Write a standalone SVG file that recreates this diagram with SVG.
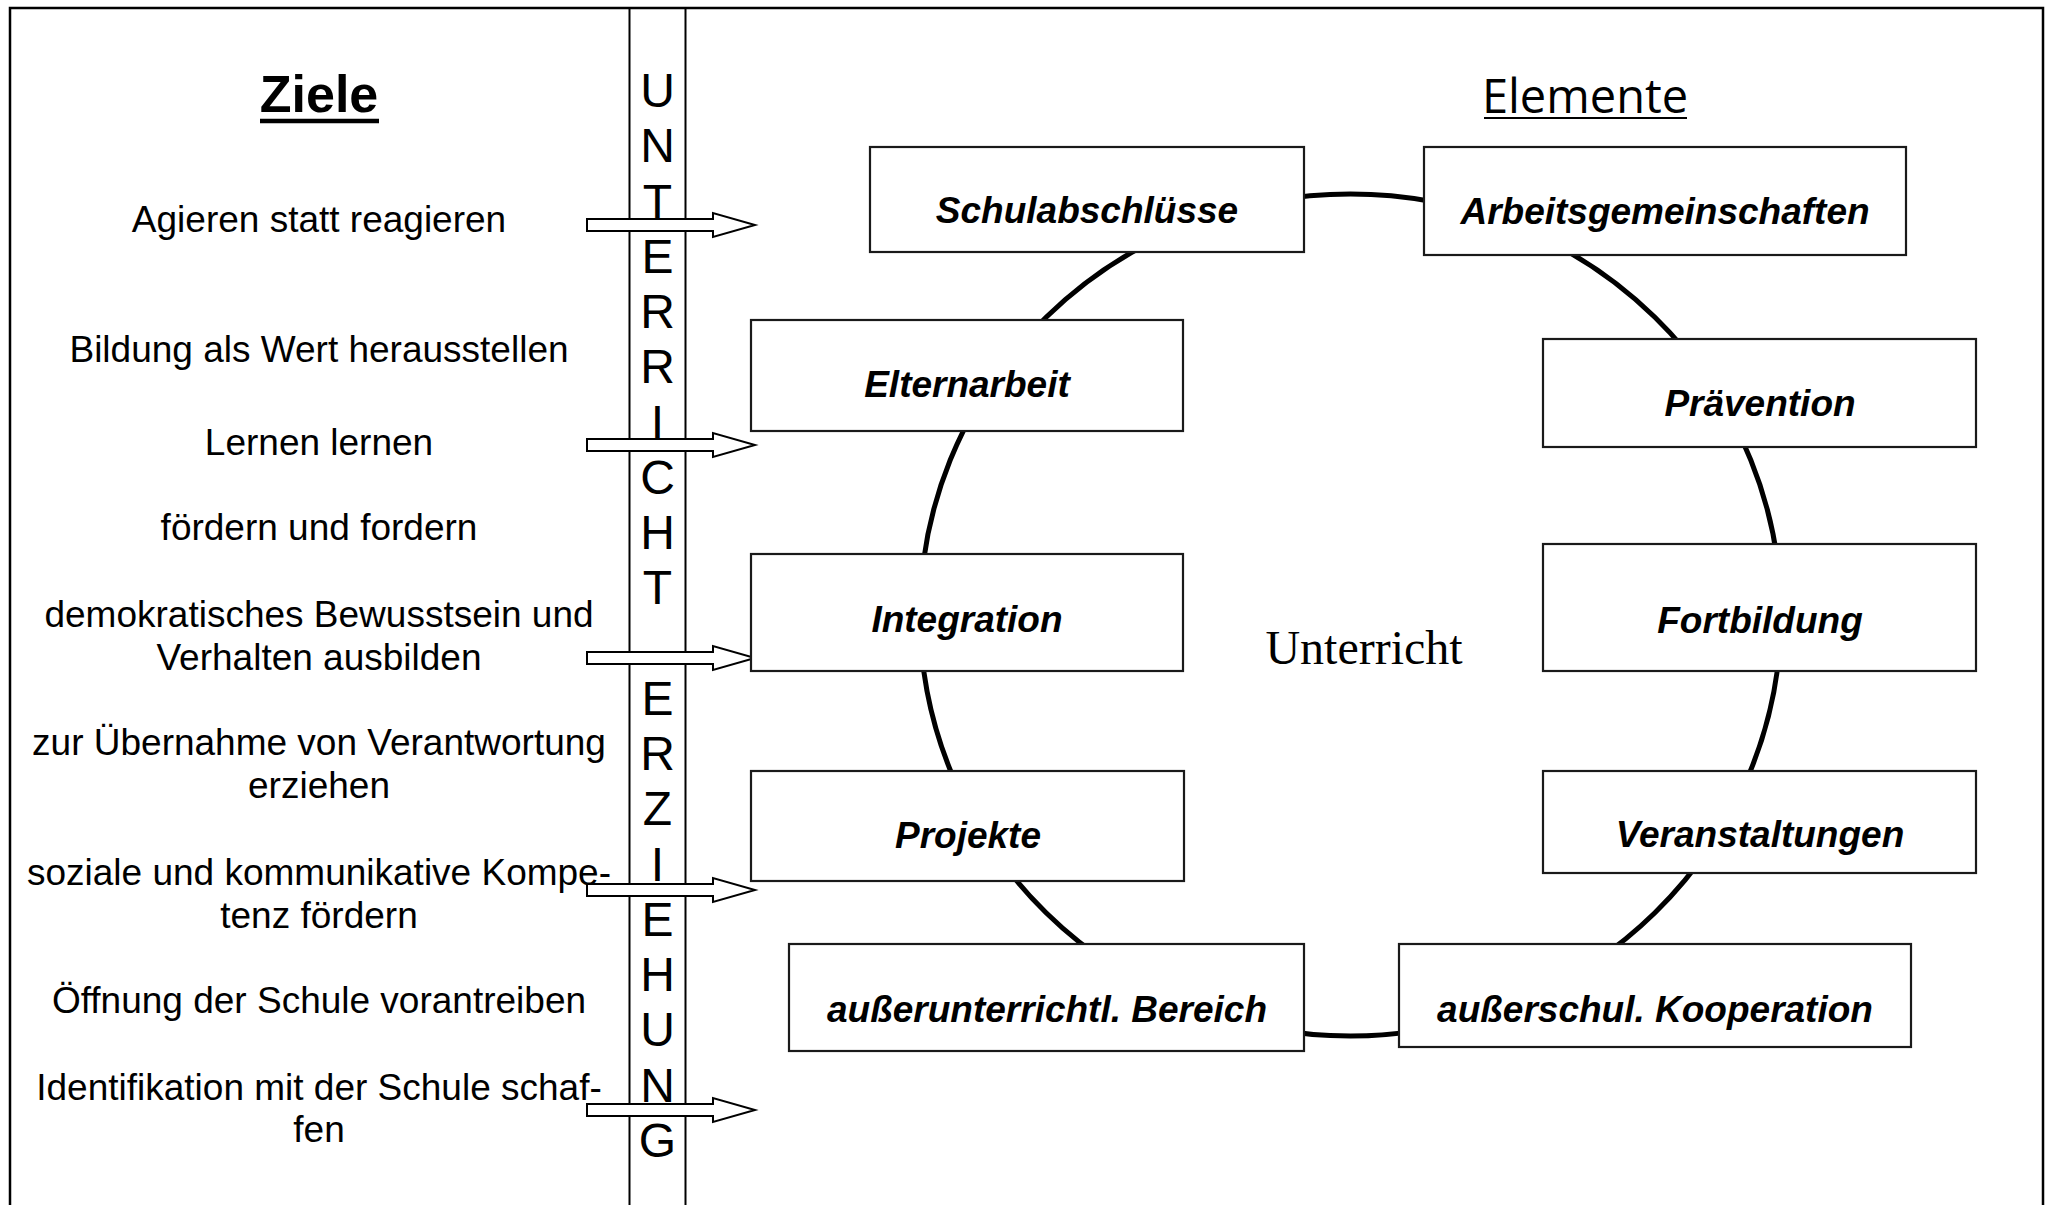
<svg xmlns="http://www.w3.org/2000/svg" xmlns:xlink="http://www.w3.org/1999/xlink" width="2058" height="1205" viewBox="0 0 2058 1205">
<style>
.goal{font-family:"Liberation Sans",Arial,sans-serif;font-size:37px;fill:#000;text-anchor:middle}
.band{font-family:"Liberation Sans",Arial,sans-serif;font-size:48px;fill:#000;text-anchor:middle}
.box{fill:#fff;stroke:#1a1a1a;stroke-width:2.2}
.lbl{font-family:"Liberation Sans",Arial,sans-serif;font-size:37px;font-weight:bold;font-style:italic;fill:#000;text-anchor:middle}
.arrow{fill:#fff;stroke:#000;stroke-width:2}
</style>
<defs>
<polygon id="harrow" class="arrow" points="587,-6 713,-6 713,-12 755,0 713,12 713,6 587,6"/>
</defs>
<rect x="0" y="0" width="2058" height="1205" fill="#fff"/>
<g id="frame" fill="none" stroke="#000">
<rect x="10" y="8" width="2033" height="1300" stroke-width="2.5"/>
<line x1="629.5" y1="8" x2="629.5" y2="1205" stroke-width="2"/>
<line x1="685.5" y1="8" x2="685.5" y2="1205" stroke-width="2"/>
</g>
<g id="band-text" class="band">
<text x="657.5" y="107">U</text>
<text x="657.5" y="162.25">N</text>
<text x="657.5" y="217.5">T</text>
<text x="657.5" y="272.75">E</text>
<text x="657.5" y="328">R</text>
<text x="657.5" y="383.25">R</text>
<text x="657.5" y="438.5">I</text>
<text x="657.5" y="493.75">C</text>
<text x="657.5" y="549">H</text>
<text x="657.5" y="604.25">T</text>
<text x="657.5" y="714.75">E</text>
<text x="657.5" y="770">R</text>
<text x="657.5" y="825.25">Z</text>
<text x="657.5" y="880.5">I</text>
<text x="657.5" y="935.75">E</text>
<text x="657.5" y="991">H</text>
<text x="657.5" y="1046.25">U</text>
<text x="657.5" y="1101.5">N</text>
<text x="657.5" y="1156.75">G</text>
</g>
<g id="title-ziele">
<text x="319" y="112" font-family="Liberation Sans, Arial, sans-serif" font-size="52" font-weight="bold" text-anchor="middle">Ziele</text>
<line x1="260" y1="121" x2="379" y2="121" stroke="#000" stroke-width="4.5"/>
</g>
<g id="goals" class="goal">
<text x="319" y="232">Agieren statt reagieren</text>
<text x="319" y="362">Bildung als Wert herausstellen</text>
<text x="319" y="455">Lernen lernen</text>
<text x="319" y="540">fördern und fordern</text>
<text x="319" y="627">demokratisches Bewusstsein und</text>
<text x="319" y="670">Verhalten ausbilden</text>
<text x="319" y="755">zur Übernahme von Verantwortung</text>
<text x="319" y="798">erziehen</text>
<text x="319" y="885">soziale und kommunikative Kompe-</text>
<text x="319" y="928">tenz fördern</text>
<text x="319" y="1013">Öffnung der Schule vorantreiben</text>
<text x="319" y="1100">Identifikation mit der Schule schaf-</text>
<text x="319" y="1142">fen</text>
</g>
<g id="goal-arrows">
<use xlink:href="#harrow" href="#harrow" transform="translate(0,225)"/>
<use xlink:href="#harrow" href="#harrow" transform="translate(0,445)"/>
<use xlink:href="#harrow" href="#harrow" transform="translate(0,658)"/>
<use xlink:href="#harrow" href="#harrow" transform="translate(0,890)"/>
<use xlink:href="#harrow" href="#harrow" transform="translate(0,1110)"/>
</g>
<g id="title-elemente">
<text x="1585" y="113" font-family="Open Sans, sans-serif" font-size="47" text-anchor="middle">Elemente</text>
<line x1="1484" y1="118" x2="1687" y2="118" stroke="#000" stroke-width="2"/>
</g>
<g id="connectors">
<ellipse cx="1350.5" cy="615" rx="430.5" ry="421" fill="none" stroke="#000" stroke-width="5"/>
</g>
<g id="center-label">
<text x="1364" y="664" font-family="Liberation Serif, Times New Roman, serif" font-size="48" text-anchor="middle">Unterricht</text>
</g>
<g id="node-schulabschluesse"><rect class="box" x="870" y="147" width="434" height="105"/><text class="lbl" x="1087" y="223">Schulabschlüsse</text></g>
<g id="node-arbeitsgemeinschaften"><rect class="box" x="1424" y="147" width="482" height="108"/><text class="lbl" x="1665" y="224">Arbeitsgemeinschaften</text></g>
<g id="node-elternarbeit"><rect class="box" x="751" y="320" width="432" height="111"/><text class="lbl" x="967" y="397">Elternarbeit</text></g>
<g id="node-praevention"><rect class="box" x="1543" y="339" width="433" height="108"/><text class="lbl" x="1760" y="416">Prävention</text></g>
<g id="node-integration"><rect class="box" x="751" y="554" width="432" height="117"/><text class="lbl" x="967" y="632">Integration</text></g>
<g id="node-fortbildung"><rect class="box" x="1543" y="544" width="433" height="127"/><text class="lbl" x="1760" y="633">Fortbildung</text></g>
<g id="node-projekte"><rect class="box" x="751" y="771" width="433" height="110"/><text class="lbl" x="968" y="848">Projekte</text></g>
<g id="node-veranstaltungen"><rect class="box" x="1543" y="771" width="433" height="102"/><text class="lbl" x="1760" y="847">Veranstaltungen</text></g>
<g id="node-ausserunterrichtl"><rect class="box" x="789" y="944" width="515" height="107"/><text class="lbl" x="1047" y="1022">außerunterrichtl. Bereich</text></g>
<g id="node-ausserschul"><rect class="box" x="1399" y="944" width="512" height="103"/><text class="lbl" x="1655" y="1022">außerschul. Kooperation</text></g>
</svg>
